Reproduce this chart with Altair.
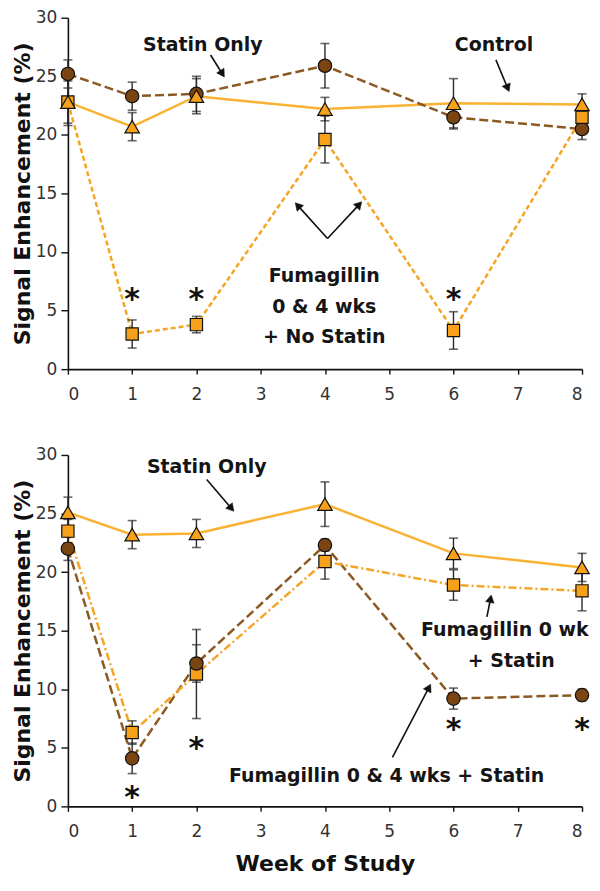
import math
import altair as alt
import pandas as pd

weeks = [0, 1, 2, 4, 6, 8]

# ---- top panel values ----
top_control = [22.8, 20.7, 23.3, 22.2, 22.7, 22.6]
top_control_err = [1.8, 1.2, 1.5, 1.0, 2.1, 0.9]
top_statin = [25.2, 23.3, 23.5, 25.9, 21.5, 20.5]
top_statin_err = [1.2, 1.2, 1.5, 1.9, 1.0, 0.9]
top_fum = [22.8, 3.0, 3.8, 19.6, 3.3, 21.5]
top_fum_err = [2.0, 1.2, 0.7, 2.0, 1.6, 0.8]
top_star_weeks = [1, 2, 6]
top_star_values = [6.4, 6.4, 6.4]

# ---- bottom panel values ----
bot_statin = [25.1, 23.2, 23.3, 25.8, 21.6, 20.4]
bot_statin_err = [1.3, 1.2, 1.2, 1.9, 1.3, 1.2]
bot_fum0 = [23.5, 6.3, 11.3, 20.9, 18.9, 18.4]
bot_fum0_err = [1.0, 1.0, 3.8, 1.5, 1.3, 1.7]
bot_fum04 = [22.0, 4.1, 12.2, 22.3, 9.2, 9.5]
bot_fum04_err = [1.0, 1.3, 1.6, 0.5, 0.9, 0.5]
bot_star_weeks = [1, 2, 6, 8]
bot_star_values = [1.2, 5.4, 7.0, 7.0]

# ---- annotation labels ----
top_labels = ["Statin Only", "Control", "Fumagillin", "0 & 4 wks", "+ No Statin"]
top_label_x = [2.10, 6.63, 3.99, 3.99, 3.99]
top_label_y = [27.66, 27.66, 7.96, 5.28, 2.77]
top_arrows = [((2.22, 26.82), (2.44, 24.89)),
              ((6.66, 26.40), (6.87, 23.64)),
              ((4.04, 11.15), (3.53, 14.25)),
              ((4.04, 11.15), (4.58, 14.33))]

bot_labels = ["Statin Only", "Fumagillin 0 wk", "+ Statin", "Fumagillin 0 & 4 wks + Statin"]
bot_label_x = [2.16, 6.80, 6.90, 4.96]
bot_label_y = [29.0, 15.09, 12.41, 2.6]
bot_arrows = [((2.16, 27.91), (2.59, 25.15)),
              ((6.52, 16.18), (6.59, 18.10)),
              ((5.05, 4.19), (5.65, 10.48))]

W, H = 515, 352
PX_X = W / 8.0
PX_Y = H / 30.0

ORANGE_LINE = "#F9B233"
ORANGE_FILL = "#F7A11A"
SQ_LINE = "#F5A524"
BROWN_LINE = "#8B5A22"
BROWN_FILL = "#7B4512"
FONT = "DejaVu Sans"

X = alt.X("week:Q", scale=alt.Scale(domain=[0, 8], nice=False),
          axis=alt.Axis(values=list(range(0, 9)), title=None))
XB = alt.X("week:Q", scale=alt.Scale(domain=[0, 8], nice=False),
           axis=alt.Axis(values=list(range(0, 9)), title="Week of Study"))
Y = alt.Y("value:Q", scale=alt.Scale(domain=[0, 30], nice=False),
          axis=alt.Axis(values=[0, 5, 10, 15, 20, 25, 30], title="Signal Enhancement (%)"))


def series_df(vals, errs):
    return pd.DataFrame({"week": weeks, "value": vals, "err": errs,
                         "lo": [v - e for v, e in zip(vals, errs)],
                         "hi": [v + e for v, e in zip(vals, errs)]})


def line_layer(df, color, dash, xenc):
    kw = dict(color=color, strokeWidth=2.5)
    if dash:
        kw["strokeDash"] = dash
    return alt.Chart(df).mark_line(**kw).encode(x=xenc, y=Y)


def err_layers(df, xenc):
    rule = alt.Chart(df).mark_rule(color="#2a2a2a", strokeWidth=1.4).encode(
        x=xenc, y=alt.Y("lo:Q"), y2="hi:Q")
    caps = pd.concat([df[["week"]].assign(value=df["lo"]), df[["week"]].assign(value=df["hi"])])
    tick = alt.Chart(caps).mark_tick(orient="horizontal", size=9, thickness=1.6,
                                     color="#2a2a2a").encode(x=xenc, y=Y)
    return [rule, tick]


def point_layer(df, shape, fill, size, xenc):
    return alt.Chart(df).mark_point(shape=shape, filled=True, fill=fill, stroke="#111",
                                    strokeWidth=1.2, size=size, opacity=1).encode(x=xenc, y=Y)


def star_layer(wk, vals, xenc):
    df = pd.DataFrame({"week": wk, "value": vals})
    return alt.Chart(df).mark_text(text="*", font=FONT, fontWeight="bold", fontSize=30,
                                   color="#111", baseline="alphabetic", dy=15).encode(x=xenc, y=Y)


def label_layer(texts, xs, ys, xenc):
    df = pd.DataFrame({"week": xs, "value": ys, "label": texts})
    return alt.Chart(df).mark_text(font=FONT, fontWeight="bold", fontSize=19, color="#151515",
                                   align="center", baseline="middle").encode(
        x=xenc, y=Y, text="label:N")


def arrow_layers(arrows, xenc):
    rules, heads = [], []
    for (x1, y1), (x2, y2) in arrows:
        dxp = (x2 - x1) * PX_X
        dyp = -(y2 - y1) * PX_Y
        L = math.hypot(dxp, dyp)
        ux, uy = dxp / L, dyp / L
        ang = math.degrees(math.atan2(dxp, -dyp)) % 360
        ex = x2 - 6 * ux / PX_X
        ey = y2 + 6 * uy / PX_Y
        hx = x2 - 4.5 * ux / PX_X
        hy = y2 + 4.5 * uy / PX_Y
        rules.append({"week": x1, "value": y1, "week2": ex, "value2": ey})
        heads.append({"week": hx, "value": hy, "angle": ang})
    r = alt.Chart(pd.DataFrame(rules)).mark_rule(color="#111", strokeWidth=1.6).encode(
        x=xenc, y=Y, x2="week2:Q", y2="value2:Q")
    h = alt.Chart(pd.DataFrame(heads)).mark_point(shape="triangle-up", filled=True, fill="#111",
                                                   stroke="#111", strokeWidth=0.5, size=75,
                                                   opacity=1).encode(
        x=xenc, y=Y, angle=alt.Angle("angle:Q", scale=None))
    return [r, h]


# ---- top panel ----
t_ctrl = series_df(top_control, top_control_err)
t_stat = series_df(top_statin, top_statin_err)
t_fum = series_df(top_fum, top_fum_err)

top_layers = [
    line_layer(t_ctrl, ORANGE_LINE, None, X),
    line_layer(t_stat, BROWN_LINE, [9, 4], X),
    line_layer(t_fum, SQ_LINE, [5, 3], X),
]
for d in (t_stat, t_fum, t_ctrl):
    top_layers += err_layers(d, X)
top_layers += [
    point_layer(t_stat, "circle", BROWN_FILL, 180, X),
    point_layer(t_fum, "square", ORANGE_FILL, 150, X),
    point_layer(t_ctrl, "triangle-up", ORANGE_FILL, 210, X),
    star_layer(top_star_weeks, top_star_values, X),
    label_layer(top_labels, top_label_x, top_label_y, X),
]
top_layers += arrow_layers(top_arrows, X)
top = alt.layer(*top_layers).properties(width=W, height=H)

# ---- bottom panel ----
b_stat = series_df(bot_statin, bot_statin_err)
b_f0 = series_df(bot_fum0, bot_fum0_err)
b_f04 = series_df(bot_fum04, bot_fum04_err)

bot_layers = [
    line_layer(b_stat, ORANGE_LINE, None, XB),
    line_layer(b_f04, BROWN_LINE, [9, 4], XB),
    line_layer(b_f0, SQ_LINE, [8, 3, 2, 3], XB),
]
for d in (b_f04, b_f0, b_stat):
    bot_layers += err_layers(d, XB)
bot_layers += [
    point_layer(b_f0, "square", ORANGE_FILL, 150, XB),
    point_layer(b_f04, "circle", BROWN_FILL, 180, XB),
    point_layer(b_stat, "triangle-up", ORANGE_FILL, 210, XB),
    star_layer(bot_star_weeks, bot_star_values, XB),
    label_layer(bot_labels, bot_label_x, bot_label_y, XB),
]
bot_layers += arrow_layers(bot_arrows, XB)
bottom = alt.layer(*bot_layers).properties(width=W, height=H)

chart = alt.vconcat(top, bottom, spacing=44).properties(
    padding={"left": 3, "top": 0, "right": 0, "bottom": 0}
).configure_view(stroke=None).configure_axis(
    domainColor="#111", domainWidth=1.6, tickColor="#111", tickWidth=1.4,
    labelFont=FONT, labelFontSize=17, labelColor="#333", grid=False,
    titleFont=FONT, titleFontWeight="bold", titleColor="#111",
).configure_axisY(
    tickSize=7, labelPadding=4, titleFontSize=22, titlePadding=1,
).configure_axisX(
    tickSize=5, labelPadding=12, titleFontSize=22, titlePadding=14,
)

chart.save("out.html", embed_options={"renderer": "svg", "actions": False})
